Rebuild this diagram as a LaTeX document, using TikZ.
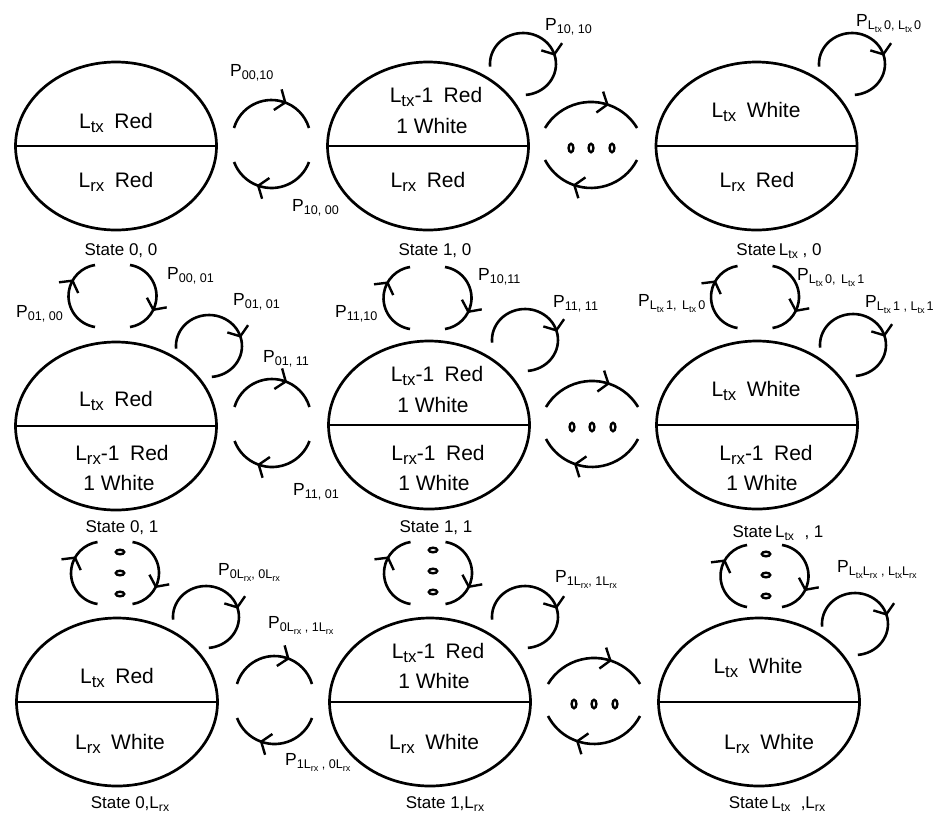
\documentclass[tikz,border=0pt]{standalone}
\usepackage{fontspec}
\setmainfont{Liberation Sans}
\usepackage{graphicx}
\usetikzlibrary{shapes.geometric, decorations.markings}
% lowered, reduced subscripts in text mode
\newcommand\dn[1]{\raisebox{-0.4ex}{\scalebox{0.72}{#1}}}
\newcommand\dnm[1]{\raisebox{-0.42ex}{\scalebox{0.8}{#1}}}

\begin{document}
\begin{tikzpicture}[x=1pt, y=1pt,
  state/.style={ellipse, draw, line width=2.7pt, minimum width=201pt, minimum height=168pt, inner sep=0pt},
  divider/.style={line width=2.7pt},
  txt/.style={font=\fontsize{21pt}{24pt}\selectfont, inner sep=0pt, anchor=base},
  stl/.style={font=\fontsize{17pt}{20pt}\selectfont, inner sep=0pt, anchor=base},
  lab/.style={font=\fontsize{17.5pt}{20pt}\selectfont, inner sep=0pt, anchor=base west},
  % arc with an open chevron riding on it, pointing along the arc
  flow/.style={line width=2.6pt, postaction={decorate, decoration={markings,
      mark=at position #1 with {\draw[line width=2.4pt, line join=miter] (-8,11) -- (0,0) -- (-8,-11);}}}},
  dotring/.style={line width=2.4pt},
  % pair of opposite transitions between two horizontally adjacent states
  lpair/.pic={
    \draw[flow=0.64] (-37.5,18) arc[start angle=163.5, end angle=16.5, radius=39.1pt];
    \draw[flow=0.64] (37.5,-16) arc[start angle=-20.5, end angle=-159.5, radius=40pt];
  },
  % wider pair with an ellipsis for the omitted states
  rpair/.pic={
    \draw[flow=0.65] (-46,18) arc[start angle=149, end angle=31, radius=53.7pt];
    \draw[flow=0.65] (46,-14) arc[start angle=-27.4, end angle=-152.6, radius=51.8pt];
    \foreach \dx in {-20,0,21}
      \draw[dotring] (\dx,-2) ellipse[x radius=2.4pt, y radius=4.2pt];
  },
  % pair of opposite transitions between vertically adjacent states
  vpair/.pic={
    \draw[flow=0.68] (-17.5,-31) arc[start angle=261, end angle=99, radius=31.4pt];
    \draw[flow=0.66] (17.5,31) arc[start angle=81, end angle=-81, radius=31.4pt];
  },
  % vertical ellipsis
  vdots/.pic={
    \foreach \dy in {21,0,-21}
      \draw[dotring] (0,\dy) ellipse[x radius=4.2pt, y radius=2.3pt];
  },
  % self transition
  selfloop/.pic={
    \draw[flow=0.62] (-32.9,-2.7) arc[start angle=185, end angle=-85, x radius=33pt, y radius=31pt];
  }
]
\useasboundingbox (0,0) rectangle (936,-820);

% ---------------- row 0 ----------------
\node[state] (s00) at (116,-146) {};
\draw[divider] (s00.west) -- (s00.east);
\node[txt] (s00t) at (116,-128) {L\dnm{tx}\hspace{0.5em}Red};
\node[txt] (s00b) at (116,-187) {L\dnm{rx}\hspace{0.5em}Red};
\node[stl] (s00l) at (121,-255) {State 0, 0};

\node[state] (s10) at (428,-146) {};
\draw[divider] (s10.west) -- (s10.east);
\node[txt] (s10t) at (436,-102) {L\dnm{tx}-1\hspace{0.5em}Red};
\node[txt] (s10u) at (432,-133) {1 White};
\node[txt] (s10b) at (428,-187) {L\dnm{rx}\hspace{0.5em}Red};
\node[stl] (s10l) at (435,-255) {State 1, 0};

\node[state] (s20) at (756.5,-146) {};
\draw[divider] (s20.west) -- (s20.east);
\node[txt] (s20t) at (756,-117) {L\dnm{tx}\hspace{0.5em}White};
\node[txt] (s20b) at (757,-187) {L\dnm{rx}\hspace{0.5em}Red};
\node[stl] (s20l) at (779,-255) {State\,L\dn{tx} , 0};

\pic at (271.5,-146) {lpair};
\pic at (591,-146) {rpair};
\pic at (523,-64) {selfloop};
\pic at (852,-64) {selfloop};

\node[lab] (p0010) at (230,-76) {P\dn{00,10}};
\node[lab] (p1000) at (292,-211) {P\dn{10, 00}};
\node[lab] (p1010) at (545,-30) {P\dn{10, 10}};
\node[lab] (pt0t0) at (856,-26) {P\dn{L\dn{tx}\,0, L\dn{tx}\,0}};

% ---------------- row 1 ----------------
\node[state] (s01) at (116,-426) {};
\draw[divider] (s01.west) -- (s01.east);
\node[txt] (s01t) at (116,-406) {L\dnm{tx}\hspace{0.5em}Red};
\node[txt] (s01b) at (122,-460) {L\dnm{rx}-1\hspace{0.5em}Red};
\node[txt] (s01c) at (119,-490) {1 White};
\node[stl] (s01l) at (122,-532) {State 0, 1};

\node[state] (s11) at (429,-425) {};
\draw[divider] (s11.west) -- (s11.east);
\node[txt] (s11t) at (437,-381) {L\dnm{tx}-1\hspace{0.5em}Red};
\node[txt] (s11u) at (433,-412) {1 White};
\node[txt] (s11b) at (438,-460) {L\dnm{rx}-1\hspace{0.5em}Red};
\node[txt] (s11c) at (434,-490) {1 White};
\node[stl] (s11l) at (436,-532) {State 1, 1};

\node[state] (s21) at (757,-425) {};
\draw[divider] (s21.west) -- (s21.east);
\node[txt] (s21t) at (756,-396) {L\dnm{tx}\hspace{0.5em}White};
\node[txt] (s21b) at (766,-460) {L\dnm{rx}-1\hspace{0.5em}Red};
\node[txt] (s21c) at (762,-490) {1 White};
\node[stl] (s21l) at (778,-537) {State\,L\dn{tx}\,\, , 1};

\pic at (272,-425) {lpair};
\pic at (592,-425) {rpair};
\pic at (112.5,-296) {vpair};
\pic at (427.5,-298) {vpair};
\pic at (755,-297) {vpair};
\pic at (209,-346) {selfloop};
\pic at (525,-340) {selfloop};
\pic at (853,-345) {selfloop};

\node[lab] (p0100) at (16,-317) {P\dn{01, 00}};
\node[lab] (p0001) at (167,-279) {P\dn{00, 01}};
\node[lab] (p0101) at (233,-305) {P\dn{01, 01}};
\node[lab] (p0111) at (263,-362) {P\dn{01, 11}};
\node[lab] (p1101) at (293,-495) {P\dn{11, 01}};
\node[lab] (p1110) at (335,-317) {P\dn{11,10}};
\node[lab] (p1011) at (478,-280) {P\dn{10,11}};
\node[lab] (p1111) at (553,-307) {P\dn{11, 11}};
\node[lab] (pt1t0) at (638,-306) {P\dn{L\dn{tx}\,1, \,L\dn{tx}\,0}};
\node[lab] (pt0t1) at (797,-280) {P\dn{L\dn{tx}\,0, \,L\dn{tx}\,1}};
\node[lab] (pt1t1) at (865,-307) {P\dn{L\dn{tx}\,1 , L\dn{tx}\,1}};

% ---------------- row 2 ----------------
\node[state] (s02) at (117,-702) {};
\draw[divider] (s02.west) -- (s02.east);
\node[txt] (s02t) at (117,-683) {L\dnm{tx}\hspace{0.5em}Red};
\node[txt] (s02b) at (120,-749) {L\dnm{rx}\hspace{0.5em}White};
\node[stl] (s02l) at (130,-808) {State 0,L\dn{rx}};

\node[state] (s12) at (430,-702) {};
\draw[divider] (s12.west) -- (s12.east);
\node[txt] (s12t) at (438,-658) {L\dnm{tx}-1\hspace{0.5em}Red};
\node[txt] (s12u) at (434,-688) {1 White};
\node[txt] (s12b) at (434,-749) {L\dnm{rx}\hspace{0.5em}White};
\node[stl] (s12l) at (445,-808) {State 1,L\dn{rx}};

\node[state] (s22) at (759,-702) {};
\draw[divider] (s22.west) -- (s22.east);
\node[txt] (s22t) at (758,-673) {L\dnm{tx}\hspace{0.5em}White};
\node[txt] (s22b) at (769,-749) {L\dnm{rx}\hspace{0.5em}White};
\node[stl] (s22l) at (777,-808) {State\,L\dn{tx}\,\, ,L\dn{rx}};

\pic at (274.5,-702) {lpair};
\pic at (594,-702) {rpair};
\pic at (115,-573) {vpair};
\pic at (428,-573) {vpair};
\pic at (764.5,-576) {vpair};
\pic at (120,-573) {vdots};
\pic at (433,-571) {vdots};
\pic at (766,-575) {vdots};
\pic at (206,-617) {selfloop};
\pic at (525,-617) {selfloop};
\pic at (855,-624) {selfloop};

\node[lab] (pa) at (218,-575) {P\dn{0L\dn{rx}, 0L\dn{rx}}};
\node[lab] (pb) at (268,-628) {P\dn{0L\dn{rx} , 1L\dn{rx}}};
\node[lab] (pc) at (285,-765) {P\dn{1L\dn{rx} , 0L\dn{rx}}};
\node[lab] (pd) at (555,-582) {P\dn{1L\dn{rx}, 1L\dn{rx}}};
\node[lab] (pe) at (837,-572) {P\dn{L\dn{tx}L\dn{rx} , L\dn{tx}L\dn{rx}}};
\end{tikzpicture}
\end{document}
